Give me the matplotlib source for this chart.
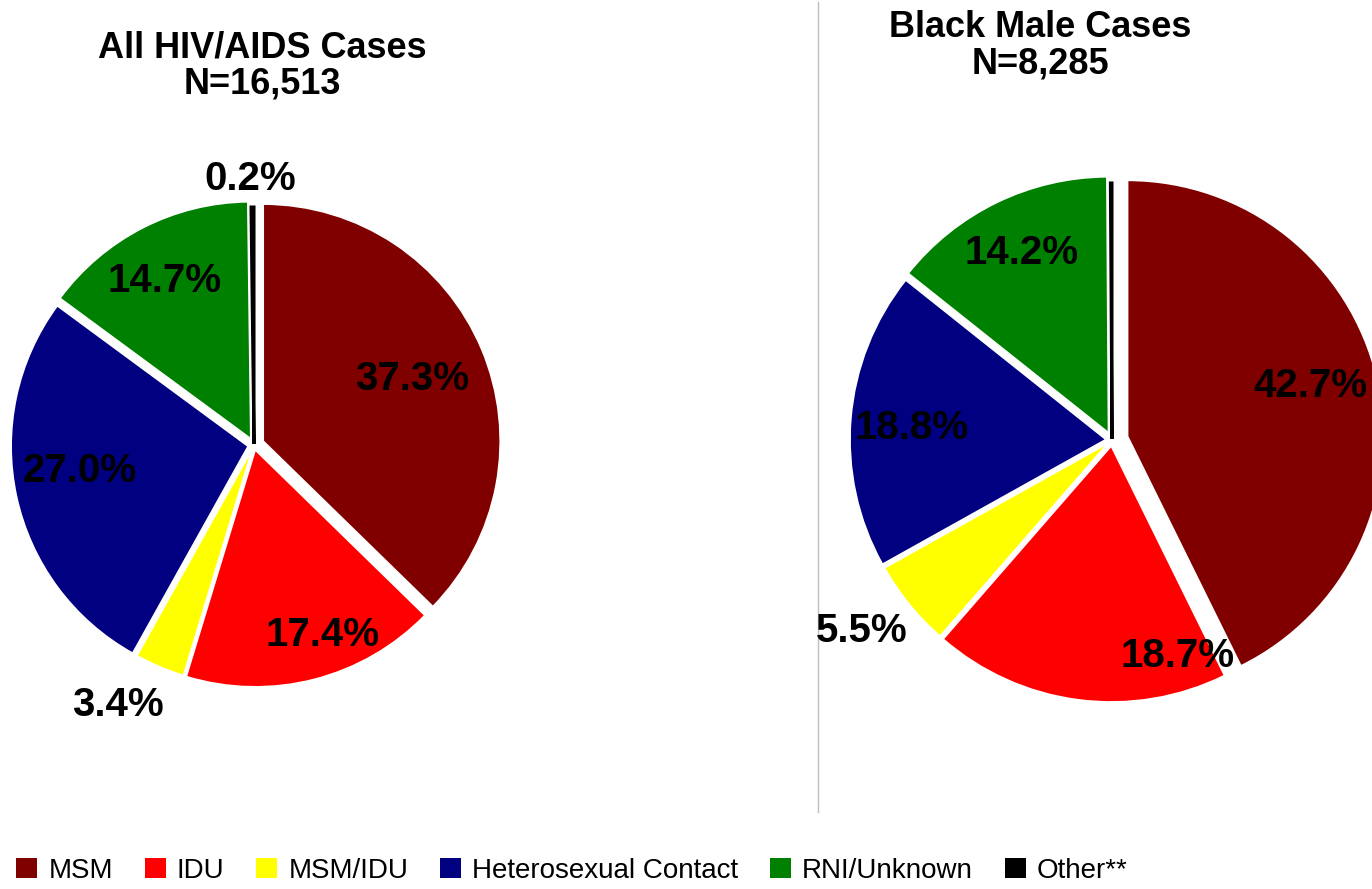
import matplotlib
matplotlib.use("Agg")
import matplotlib.pyplot as plt
import numpy as np
from matplotlib.patches import Patch

# ---------------- data ----------------
categories = ["MSM", "IDU", "MSM/IDU", "Heterosexual Contact", "RNI/Unknown", "Other**"]
all_cases = [37.3, 17.4, 3.4, 27.0, 14.7, 0.2]
black_male = [42.7, 18.7, 5.5, 18.8, 14.2, 0.1]
all_labels = ["37.3%", "17.4%", "3.4%", "27.0%", "14.7%", "0.2%"]
bm_labels = ["42.7%", "18.7%", "5.5%", "18.8%", "14.2%", ""]
titles = ["All HIV/AIDS Cases\nN=16,513", "Black Male Cases\nN=8,285"]
colors = ["#800000", "#FF0000", "#FFFF00", "#000080", "#008000", "#000000"]

# ---------------- style ----------------
plt.rcParams['font.family'] = ['Liberation Sans', 'DejaVu Sans']
W, H = 1372, 889
fig = plt.figure(figsize=(W / 100, H / 100), dpi=100)
ax = fig.add_axes([0, 0, 1, 1])

left_center, left_r = (254, H - 445), 237
right_center, right_r = (1112, H - 440), 256
left_explode = [10, 5, 4, 6, 7, 1]
right_explode = [16, 6, 5, 6, 8, 1]
left_ldist = [0.68, 0.83, 1.22, 0.72, 0.76, 1.12]
left_lshift = [0, 5.5, -4.7, -3.8, 1.5, 0.5]
right_ldist = [0.74, 0.86, 1.21, 0.76, 0.78, 1.0]
right_lshift = [2.4, 24.8, -1.7, 1.2, 0, 0]
other_edge = [0, 0, 0, 0, 0, 1]   # thin black outline to keep the tiny "Other" slice visible


def draw_pie(values, labels, center, radius, explode, ldist, lshift):
    wedges, _ = ax.pie(values, colors=colors, startangle=90, counterclock=False,
                       center=center, radius=radius, explode=explode,
                       wedgeprops=dict(edgecolor='white', linewidth=1.2))
    for w, flag in zip(wedges, other_edge):
        if flag:
            w.set_edgecolor('black')
            w.set_linewidth(2.2)
    for w, lab, d, s in zip(wedges, labels, ldist, lshift):
        if not lab:
            continue
        th = np.deg2rad((w.theta1 + w.theta2) / 2 + s)
        cx, cy = w.center
        ax.text(cx + d * w.r * np.cos(th), cy + d * w.r * np.sin(th), lab,
                ha='center', va='center', fontsize=29, fontweight='bold', color='black')
    return wedges


draw_pie(all_cases, all_labels, left_center, left_r, left_explode, left_ldist, left_lshift)
draw_pie(black_male, bm_labels, right_center, right_r, right_explode, right_ldist, right_lshift)

ax.set_xlim(0, W)
ax.set_ylim(0, H)
ax.set_aspect('equal')
ax.axis('off')

# titles
ax.text(262, H - 66, titles[0], ha='center', va='center', fontsize=26,
        fontweight='bold', linespacing=1.05)
ax.text(1040, H - 46, titles[1], ha='center', va='center', fontsize=26,
        fontweight='bold', linespacing=1.05)

# separator
ax.plot([818, 818], [H - 2, H - 812], color='#BFBFBF', lw=1)

# legend
handles = [Patch(facecolor=c, edgecolor='none') for c in colors]
fig.legend(handles, categories, loc='center', bbox_to_anchor=(572 / W, 1 - 871 / H),
           ncol=6, frameon=False, fontsize=20, handlelength=0.75, handleheight=0.75,
           handletextpad=0.4, columnspacing=1.15)

fig.savefig("out.png", dpi=100, facecolor='white')
